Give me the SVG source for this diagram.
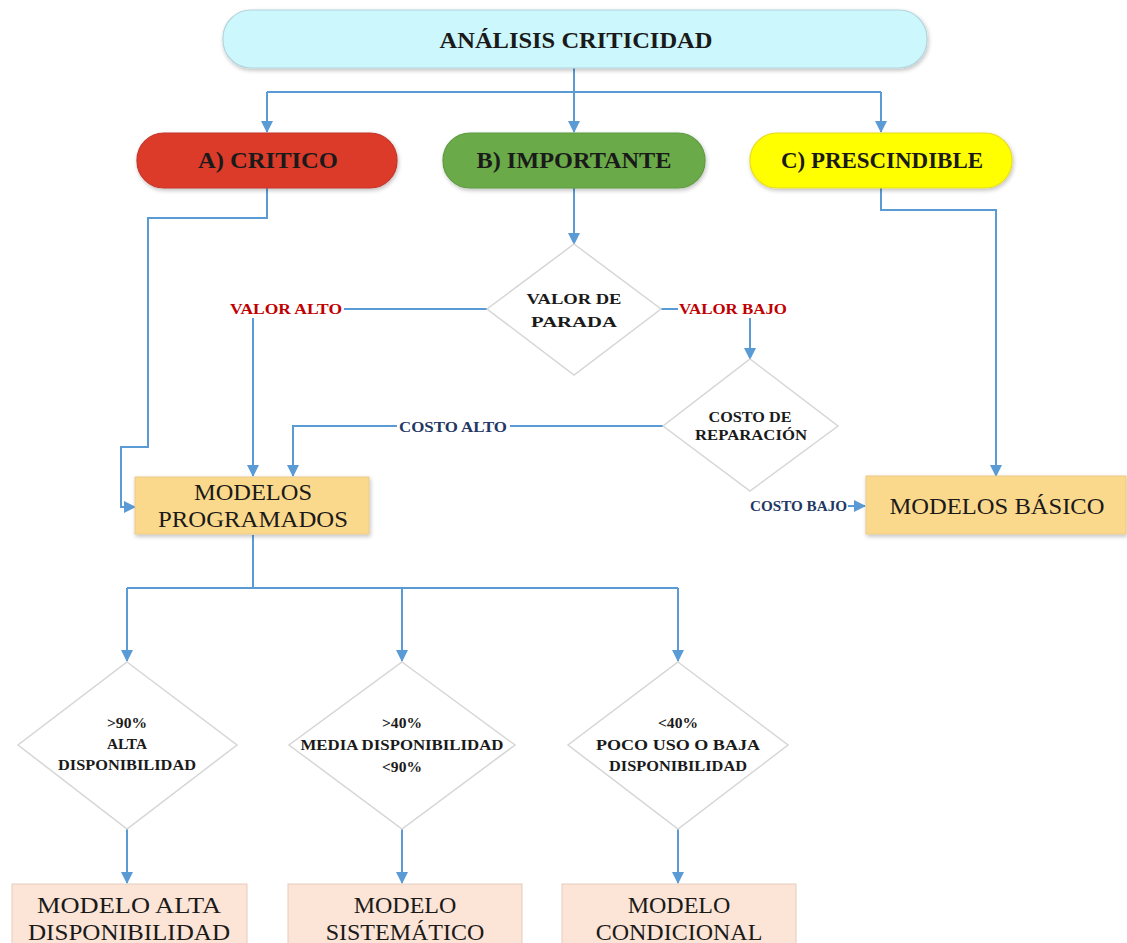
<svg xmlns="http://www.w3.org/2000/svg" width="1127" height="943" viewBox="0 0 1127 943">
  <style>
    .ln { fill: none; stroke: #5b9bd5; stroke-width: 2; }
    .arr { marker-end: url(#ah); }
    .hd { font-family: "Liberation Serif", "Times New Roman", serif; font-weight: bold; font-size: 24px; fill: #1a1a1a; text-anchor: middle; }
    .bx { font-family: "Liberation Serif", "Times New Roman", serif; font-size: 24px; fill: #1a1a1a; text-anchor: middle; }
    .dt { font-family: "Liberation Serif", "Times New Roman", serif; font-weight: bold; font-size: 15px; fill: #1a1a1a; text-anchor: middle; }
    .lr { font-family: "Liberation Serif", "Times New Roman", serif; font-weight: bold; font-size: 15px; fill: #c00000; }
    .lb { font-family: "Liberation Serif", "Times New Roman", serif; font-weight: bold; font-size: 15px; fill: #1f3864; }
    .dia { fill: #ffffff; stroke: #d6d6d6; stroke-width: 1.5; }
    .pill { filter: url(#sh); }
  </style>
  <defs>
    <marker id="ah" markerWidth="12" markerHeight="12" refX="11" refY="6" orient="auto" markerUnits="userSpaceOnUse">
      <path d="M0,0 L12,6 L0,12 z" fill="#5b9bd5"/>
    </marker>
    <filter id="sh" x="-10%" y="-20%" width="125%" height="150%">
      <feGaussianBlur in="SourceAlpha" stdDeviation="2"/>
      <feOffset dx="1" dy="2" result="o"/>
      <feComponentTransfer><feFuncA type="linear" slope="0.25"/></feComponentTransfer>
      <feMerge><feMergeNode/><feMergeNode in="SourceGraphic"/></feMerge>
    </filter>
  </defs>

  <rect width="1127" height="943" fill="#ffffff"/>

  <!-- connectors -->
  <g id="connectors">
    <path class="ln" d="M574,68 V92"/>
    <path class="ln" d="M267,92 H881"/>
    <path class="ln arr" d="M267,92 V132"/>
    <path class="ln arr" d="M574,92 V132"/>
    <path class="ln arr" d="M881,92 V132"/>
    <!-- critico to programados -->
    <path class="ln arr" d="M267,188 V218 H148 V447 H121 V507 H135"/>
    <!-- importante to valor de parada -->
    <path class="ln arr" d="M574,188 V244"/>
    <!-- valor alto -->
    <path class="ln" d="M487,309 H344"/>
    <path class="ln arr" d="M253,318 V476"/>
    <!-- valor bajo -->
    <path class="ln" d="M661,309 H678"/>
    <path class="ln arr" d="M750,318 V359"/>
    <!-- costo alto -->
    <path class="ln" d="M663,426 H510"/>
    <path class="ln arr" d="M397,426 H293 V476"/>
    <!-- costo bajo -->
    <path class="ln arr" d="M848,506 H865"/>
    <!-- prescindible to basico -->
    <path class="ln arr" d="M881,188 V210 H996 V476"/>
    <!-- programados to availability checks -->
    <path class="ln" d="M253,535 V588"/>
    <path class="ln" d="M127,588 H678"/>
    <path class="ln arr" d="M127,588 V661"/>
    <path class="ln arr" d="M402,588 V661"/>
    <path class="ln arr" d="M678,588 V661"/>
    <path class="ln arr" d="M127,829 V883"/>
    <path class="ln arr" d="M402,829 V883"/>
    <path class="ln arr" d="M678,829 V883"/>
  </g>

  <g id="analisis">
    <rect class="pill" x="223" y="10" width="704" height="58" rx="28" fill="#ccf7fd" stroke="#b3d6dd" stroke-width="1.2"/>
    <text class="hd" x="576" y="48" textLength="273" lengthAdjust="spacingAndGlyphs">ANÁLISIS CRITICIDAD</text>
  </g>

  <g id="critico">
    <rect class="pill" x="137" y="133" width="260" height="55" rx="27" fill="#dc3a2a" stroke="#c2362a" stroke-width="1.2"/>
    <text class="hd" x="268" y="168" textLength="140" lengthAdjust="spacingAndGlyphs">A) CRITICO</text>
  </g>

  <g id="importante">
    <rect class="pill" x="443" y="133" width="262" height="55" rx="27" fill="#6aaa48" stroke="#5f9a40" stroke-width="1.2"/>
    <text class="hd" x="574" y="168" textLength="195" lengthAdjust="spacingAndGlyphs">B) IMPORTANTE</text>
  </g>

  <g id="prescindible">
    <rect class="pill" x="750" y="133" width="262" height="55" rx="27" fill="#ffff00" stroke="#e8dc20" stroke-width="1.2"/>
    <text class="hd" x="882" y="168" textLength="202" lengthAdjust="spacingAndGlyphs">C) PRESCINDIBLE</text>
  </g>

  <g id="valor-parada">
    <polygon class="dia" points="574,244 661,309 574,375 487,309"/>
    <text class="dt" x="574" y="304" font-size="17" textLength="95" lengthAdjust="spacingAndGlyphs">VALOR DE</text>
    <text class="dt" x="574" y="327" font-size="17" textLength="86" lengthAdjust="spacingAndGlyphs">PARADA</text>
  </g>
  <text class="lr" x="230" y="314" textLength="112" lengthAdjust="spacingAndGlyphs">VALOR ALTO</text>
  <text class="lr" x="679" y="314" textLength="108" lengthAdjust="spacingAndGlyphs">VALOR BAJO</text>

  <g id="costo-reparacion">
    <polygon class="dia" points="750,359 838,426 750,491 663,426"/>
    <text class="dt" x="750" y="422" font-size="14" textLength="83" lengthAdjust="spacingAndGlyphs">COSTO DE</text>
    <text class="dt" x="751" y="440" font-size="14" textLength="112" lengthAdjust="spacingAndGlyphs">REPARACIÓN</text>
  </g>
  <text class="lb" x="399" y="432" textLength="108" lengthAdjust="spacingAndGlyphs">COSTO ALTO</text>
  <text class="lb" x="750" y="511" textLength="97" lengthAdjust="spacingAndGlyphs">COSTO BAJO</text>

  <g id="modelos-programados">
    <rect class="pill" x="135" y="477" width="234" height="57" fill="#fbd98c" stroke="#ecc987" stroke-width="1"/>
    <text class="bx" x="253" y="500" textLength="118" lengthAdjust="spacingAndGlyphs">MODELOS</text>
    <text class="bx" x="253" y="527" textLength="190" lengthAdjust="spacingAndGlyphs">PROGRAMADOS</text>
  </g>

  <g id="modelos-basico">
    <rect class="pill" x="866" y="476" width="260" height="58" fill="#fbd98c" stroke="#ecc987" stroke-width="1"/>
    <text class="bx" x="997" y="514" textLength="215" lengthAdjust="spacingAndGlyphs">MODELOS BÁSICO</text>
  </g>

  <g id="alta-disp">
    <polygon class="dia" points="127,662 237,745 127,829 18,745"/>
    <text class="dt" x="127" y="728" textLength="40" lengthAdjust="spacingAndGlyphs">&gt;90%</text>
    <text class="dt" x="127" y="749" textLength="40" lengthAdjust="spacingAndGlyphs">ALTA</text>
    <text class="dt" x="127" y="770" textLength="138" lengthAdjust="spacingAndGlyphs">DISPONIBILIDAD</text>
  </g>

  <g id="media-disp">
    <polygon class="dia" points="402,662 515,745 402,829 289,745"/>
    <text class="dt" x="402" y="728" textLength="40" lengthAdjust="spacingAndGlyphs">&gt;40%</text>
    <text class="dt" x="402" y="750" textLength="203" lengthAdjust="spacingAndGlyphs">MEDIA DISPONIBILIDAD</text>
    <text class="dt" x="402" y="772" textLength="40" lengthAdjust="spacingAndGlyphs">&lt;90%</text>
  </g>

  <g id="baja-disp">
    <polygon class="dia" points="678,662 788,745 678,829 568,745"/>
    <text class="dt" x="678" y="728" textLength="40" lengthAdjust="spacingAndGlyphs">&lt;40%</text>
    <text class="dt" x="678" y="750" textLength="164" lengthAdjust="spacingAndGlyphs">POCO USO O BAJA</text>
    <text class="dt" x="678" y="771" textLength="138" lengthAdjust="spacingAndGlyphs">DISPONIBILIDAD</text>
  </g>

  <g id="modelo-alta">
    <rect x="12" y="884" width="235" height="62" fill="#fce4d6" stroke="#e3cbbd" stroke-width="1"/>
    <text class="bx" x="129" y="913" textLength="184" lengthAdjust="spacingAndGlyphs">MODELO ALTA</text>
    <text class="bx" x="129" y="940" textLength="202" lengthAdjust="spacingAndGlyphs">DISPONIBILIDAD</text>
  </g>

  <g id="modelo-sistematico">
    <rect x="288" y="884" width="234" height="62" fill="#fce4d6" stroke="#e3cbbd" stroke-width="1"/>
    <text class="bx" x="405" y="913">MODELO</text>
    <text class="bx" x="405" y="940">SISTEMÁTICO</text>
  </g>

  <g id="modelo-condicional">
    <rect x="562" y="884" width="234" height="62" fill="#fce4d6" stroke="#e3cbbd" stroke-width="1"/>
    <text class="bx" x="679" y="913">MODELO</text>
    <text class="bx" x="679" y="940">CONDICIONAL</text>
  </g>
</svg>
